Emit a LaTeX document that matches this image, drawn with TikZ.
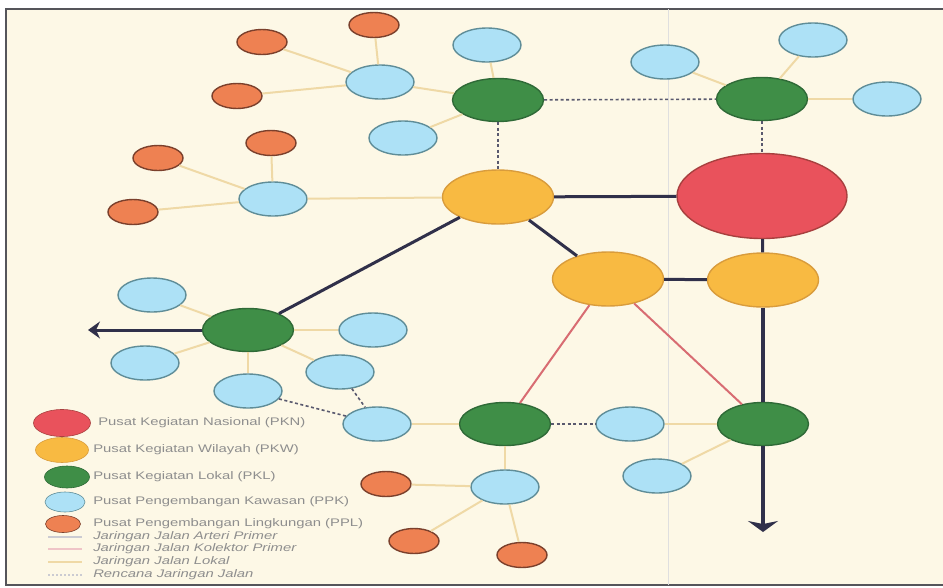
\documentclass[tikz,border=0pt]{standalone}
\usepackage{fontspec}
\setmainfont{Liberation Sans}
\usetikzlibrary{shapes.geometric,arrows.meta}

\definecolor{bgcream}{HTML}{FDF8E6}
\definecolor{framegray}{HTML}{55555A}
\definecolor{pknfill}{HTML}{E9525C}
\definecolor{pknline}{HTML}{A8403F}
\definecolor{pkwfill}{HTML}{F8BA42}
\definecolor{pkwline}{HTML}{D99C3C}
\definecolor{pklfill}{HTML}{3F8E47}
\definecolor{pklline}{HTML}{2F6A37}
\definecolor{ppkfill}{HTML}{ADE1F6}
\definecolor{ppkline}{HTML}{5F8D98}
\definecolor{pplfill}{HTML}{EE8152}
\definecolor{pplline}{HTML}{7B402C}
\definecolor{navy}{HTML}{30304A}
\definecolor{pinkline}{HTML}{D86C72}
\definecolor{tanline}{HTML}{EFD9A6}
\definecolor{legendtext}{HTML}{8E8E8E}

\tikzset{
  pusat/.style={ellipse, draw, line width=1.4pt, inner sep=0pt},
  pkn/.style={pusat, fill=pknfill, draw=pknline, minimum width=170pt, minimum height=85pt},
  pkw/.style={pusat, fill=pkwfill, draw=pkwline, minimum width=111pt, minimum height=54pt},
  pkl/.style={pusat, fill=pklfill, draw=pklline, minimum width=91pt, minimum height=43pt},
  ppk/.style={pusat, fill=ppkfill, draw=ppkline, minimum width=68pt, minimum height=34pt},
  ppl/.style={pusat, fill=pplfill, draw=pplline, minimum width=50pt, minimum height=25pt},
  arteri/.style={draw=navy, line width=3pt},
  kolektor/.style={draw=pinkline, line width=2pt},
  lokal/.style={draw=tanline, line width=2pt},
  rencana/.style={draw=navy!80, line width=1.6pt, dash pattern=on 3pt off 2.5pt},
  legendtxt/.style={anchor=west, text=legendtext, font=\fontsize{11}{13}\selectfont, xscale=1.35, inner sep=0pt}
}

\begin{document}
\begin{tikzpicture}[x=1pt,y=-1pt]
\useasboundingbox (0,0) rectangle (943,587);
\fill[white] (0,0) rectangle (943,587);
\filldraw[draw=framegray, fill=bgcream, line width=1.5pt] (6,9) rectangle (955,585);
\draw[gray!25, line width=0.6pt] (668,9) -- (668,585);

% pusat kegiatan
\node[pkn] (pkn) at (762,196) {};
\node[pkw] (pkwa) at (498,197) {};
\node[pkw] (pkwb) at (608,279) {};
\node[pkw] (pkwc) at (763,280) {};
\node[pkl] (pkla) at (498,100) {};
\node[pkl] (pklb) at (762,99) {};
\node[pkl] (pklc) at (248,330) {};
\node[pkl] (pkld) at (505,424) {};
\node[pkl] (pkle) at (763,424) {};

% pusat pengembangan kawasan
\node[ppk] (ppka) at (380,82) {};
\node[ppk] (ppkb) at (403,138) {};
\node[ppk] (ppkc) at (273,199) {};
\node[ppk] (ppkd) at (487,45) {};
\node[ppk] (ppke) at (665,62) {};
\node[ppk] (ppkf) at (813,40) {};
\node[ppk] (ppkg) at (887,99) {};
\node[ppk] (ppkh) at (152,295) {};
\node[ppk] (ppki) at (373,330) {};
\node[ppk] (ppkj) at (145,363) {};
\node[ppk] (ppkk) at (340,372) {};
\node[ppk] (ppkl) at (248,391) {};
\node[ppk] (ppkm) at (377,424) {};
\node[ppk] (ppkn) at (630,424) {};
\node[ppk] (ppko) at (657,476) {};
\node[ppk] (ppkp) at (505,487) {};

% pusat pengembangan lingkungan
\node[ppl] (ppla) at (262,42) {};
\node[ppl] (pplb) at (374,25) {};
\node[ppl] (pplc) at (237,96) {};
\node[ppl] (ppld) at (271,143) {};
\node[ppl] (pple) at (158,158) {};
\node[ppl] (pplf) at (133,212) {};
\node[ppl] (pplg) at (386,484) {};
\node[ppl] (pplh) at (414,541) {};
\node[ppl] (ppli) at (522,555) {};

\coordinate (ujungkiri) at (88,330);
\coordinate (ujungbawah) at (763,532);

% jaringan jalan arteri primer
\draw[arteri] (pkn) -- (pkwa);
\draw[arteri] (pkwa) -- (pkwb);
\draw[arteri] (pkwb) -- (pkwc);
\draw[arteri] (pkn) -- (pkwc);
\draw[arteri] (pkwa) -- (pklc);
\draw[arteri, -{Stealth[length=12pt,width=17pt,inset=4pt]}] (pklc) -- (ujungkiri);
\draw[arteri, line width=3.5pt] (pkwc) -- (pkle);
\draw[arteri, line width=3.5pt, -{Stealth[length=11pt,width=30pt,inset=3pt]}] (pkle) -- (ujungbawah);

% jaringan jalan kolektor primer
\draw[kolektor] (pkwb) -- (pkld);
\draw[kolektor] (pkwb) -- (pkle);

% jaringan jalan lokal
\foreach \a/\b in {ppla/ppka, pplb/ppka, pplc/ppka, ppka/pkla, ppkb/pkla, ppkd/pkla,
                   ppld/ppkc, pple/ppkc, pplf/ppkc, ppkc/pkwa,
                   ppke/pklb, ppkf/pklb, ppkg/pklb,
                   pklc/ppkh, pklc/ppki, pklc/ppkj, pklc/ppkk, pklc/ppkl,
                   ppkm/pkld, pkld/ppkp, ppkp/pplg, ppkp/pplh, ppkp/ppli,
                   ppkn/pkle, pkle/ppko}
  \draw[lokal] (\a) -- (\b);

% rencana jaringan jalan
\draw[rencana] (pkla) -- (pkwa);
\draw[rencana] (pkla) -- (pklb);
\draw[rencana] (pklb) -- (pkn);
\draw[rencana] (ppkl) -- (ppkm);
\draw[rencana] (ppkk) -- (ppkm);
\draw[rencana] (pkld) -- (ppkn);

% legenda
\node[pkn, minimum width=57pt, minimum height=27pt, line width=0.6pt] (lgpkn) at (62,423) {};
\node[pkw, minimum width=53pt, minimum height=25pt, line width=0.6pt] (lgpkw) at (62,450) {};
\node[pkl, minimum width=45pt, minimum height=22pt, line width=0.6pt] (lgpkl) at (67,477) {};
\node[ppk, minimum width=40pt, minimum height=20pt, line width=0.6pt] (lgppk) at (65,502) {};
\node[ppl, minimum width=35pt, minimum height=17pt, line width=0.6pt] (lgppl) at (63,524) {};
\coordinate (lga) at (48,537);
\coordinate (lgb) at (48,549);
\coordinate (lgc) at (48,562);
\coordinate (lgd) at (48,575);
\draw[navy!25, line width=1.5pt] (lga) -- ++(34,0);
\draw[pinkline!40, line width=1.5pt] (lgb) -- ++(34,0);
\draw[tanline, line width=1.5pt] (lgc) -- ++(34,0);
\draw[navy!25, line width=1.2pt, dash pattern=on 2pt off 2pt] (lgd) -- ++(34,0);

\node[legendtxt] (txpkn) at (98,423) {Pusat Kegiatan Nasional (PKN)};
\node[legendtxt] (txpkw) at (93,450) {Pusat Kegiatan Wilayah (PKW)};
\node[legendtxt] (txpkl) at (93,477) {Pusat Kegiatan Lokal (PKL)};
\node[legendtxt] (txppk) at (93,502) {Pusat Pengembangan Kawasan (PPK)};
\node[legendtxt] (txppl) at (93,524) {Pusat Pengembangan Lingkungan (PPL)};
\node[legendtxt, font=\fontsize{11}{13}\selectfont\itshape] (txa) at (93,537) {Jaringan Jalan Arteri Primer};
\node[legendtxt, font=\fontsize{11}{13}\selectfont\itshape] (txb) at (93,549) {Jaringan Jalan Kolektor Primer};
\node[legendtxt, font=\fontsize{11}{13}\selectfont\itshape] (txc) at (93,562) {Jaringan Jalan Lokal};
\node[legendtxt, font=\fontsize{11}{13}\selectfont\itshape] (txd) at (93,575) {Rencana Jaringan Jalan};
\end{tikzpicture}
\end{document}
